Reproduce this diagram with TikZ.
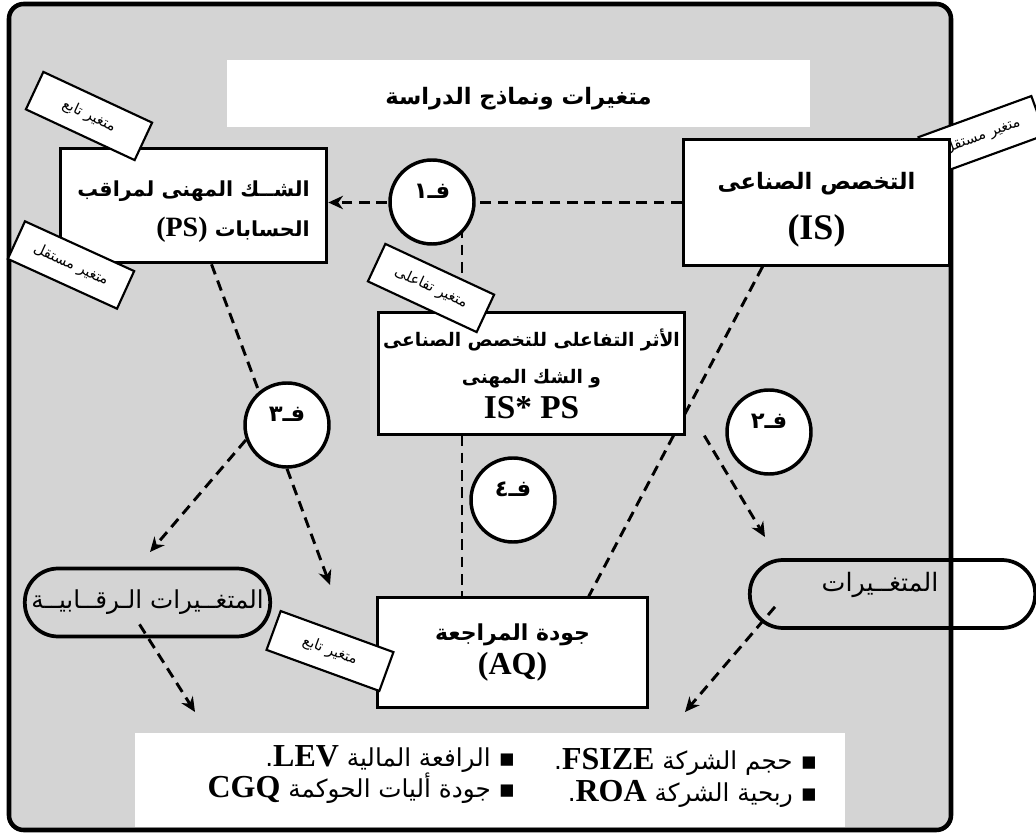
\documentclass[tikz,border=0pt]{standalone}
\usepackage{fontspec}
\setmainfont{DejaVu Sans}
\newfontfamily\arabicfont[Script=Arabic]{DejaVu Sans}
\newfontfamily\latinfont{Liberation Serif}
\TeXXeTstate=1
\usetikzlibrary{arrows.meta,calc}
\pgfdeclarelayer{back}
\pgfdeclarelayer{mid}
\pgfsetlayers{back,mid,main}
\newcommand{\ar}[1]{{\arabicfont\beginR #1\endR}}
\newcommand{\lat}[2][21]{\beginL{\latinfont\bfseries\fontsize{#1}{#1}\selectfont #2}\endL}
\newcommand{\varnote}[4]{
  \node[varbox,rotate=#3] (#1) at #2 {\ar{#4}};
}
\tikzset{
  frame/.style={draw,line width=3.4pt,rounded corners=11pt,fill=black!17},
  mainbox/.style={draw,line width=2.2pt,fill=white,inner sep=2pt,font=\bfseries\fontsize{15.5}{29.5}\selectfont},
  varbox/.style={draw,line width=1.6pt,fill=white,minimum width=90pt,minimum height=31pt,inner sep=1pt,font=\fontsize{11}{13}\selectfont},
  hyp/.style={draw,circle,line width=2.6pt,fill=white,minimum size=63pt,inner sep=0pt,font=\bfseries\fontsize{17}{20}\selectfont},
  ctrl/.style={draw,line width=2.8pt,rounded corners=25pt,minimum height=51pt,inner sep=0pt},
  dashline/.style={line width=2.2pt,dash pattern=on 8pt off 5pt},
  tip/.style={-{Stealth[length=11pt,width=10pt,inset=3.5pt]}}
}
\begin{document}
\begin{tikzpicture}[x=0.75pt,y=-0.75pt]
\useasboundingbox (0,0) rectangle (1036,834);

\node[mainbox,minimum width=200pt,minimum height=86pt,align=right] (ps) at (193.5,205.5)
  {\ar{\rule{0pt}{21pt}الشــك المهنى لمراقب}\\ \ar{الحسابات \lat{(PS)}}};
\node[mainbox,minimum width=200pt,minimum height=94pt,align=center,font=\bfseries\fontsize{17}{38}\selectfont] (is) at (816.5,202.5)
  {\ar{\rule{0pt}{24pt}التخصص الصناعى}\\ \lat[27]{(IS)}};
\node[mainbox,minimum width=230pt,minimum height=91pt,align=center,font=\bfseries\fontsize{14}{28}\selectfont] (inter) at (531.5,373.5)
  {\ar{الأثر التفاعلى للتخصص الصناعى}\\ \ar{و الشك المهنى}\\[-2pt] \lat[25]{IS* PS}};
\node[mainbox,minimum width=202pt,minimum height=82pt,align=center,font=\bfseries\fontsize{16.5}{26}\selectfont] (aq) at (512.5,652.5)
  {\ar{جودة المراجعة}\\ \lat[24]{(AQ)}};

\foreach \n/\x/\y/\d in {f1/432/202/١,f2/769/432/٢,f3/287/425/٣,f4/513/500/٤}
  \node[hyp] (\n) at (\x,\y) {\raisebox{8pt}[\height][\depth]{\ar{فـ\d}}};

\node[ctrl,minimum width=184pt,font=\fontsize{18.5}{20}\selectfont] (ctrlL) at (147.5,602.5)
  {\ar{المتغــيرات الـرقــابيــة}};
\node[ctrl,minimum width=214pt] (ctrlR) at (892.5,594) {};
\node[font=\fontsize{19}{20}\selectfont,anchor=east] (ctrlRtext) at (943,585) {\ar{المتغــيرات}};

\node[anchor=north east,align=right,font=\fontsize{18.5}{24}\selectfont] (listA) at (822,744)
  {\ar{▪ حجم الشركة \lat[24]{FSIZE}.}\\ \ar{▪ ربحية الشركة \lat[24]{ROA}.}};
\node[anchor=north east,align=right,font=\fontsize{18.5}{23}\selectfont] (listB) at (520,741)
  {\ar{▪ الرافعة المالية \lat[24]{LEV}.}\\ \ar{▪ جودة أليات الحوكمة \lat[24]{CGQ}}};

\varnote{n1}{(89,116)}{-25}{متغير تابع}
\varnote{n2}{(71,265)}{-24.5}{متغير مستقل}
\varnote{n3}{(431,288)}{-25}{متغير تفاعلى}
\varnote{n4}{(330,651)}{-20}{متغير تابع}

\begin{pgfonlayer}{back}
\draw[frame] (9,4) rectangle (951,830);
\node[fill=white,minimum width=437pt,minimum height=50pt,font=\bfseries\fontsize{17}{19}\selectfont] (title) at (518.5,93.5)
  {\ar{\rule{0pt}{20.5pt}متغيرات ونماذج الدراسة}};
\node[fill=white,minimum width=532pt,minimum height=71pt] (listbox) at (490,780) {};
\end{pgfonlayer}

\begin{pgfonlayer}{mid}
\varnote{n5}{(982,136)}{20}{متغير مستقل}
\draw[dashline,tip] (is.west) -- (is.west -| ps.east);
\coordinate (v1) at (462,210);
\draw[dashline] (v1) -- (v1 |- aq.north);
\draw[dashline] ($(is.south west)!0.3!(is.south east)$) -- ($(aq.north west)!0.78!(aq.north east)$);
\coordinate (tipR) at (765,537);
\draw[dashline,tip] ($(inter.south east)+(18,0)$) -- (tipR);
\draw[dashline] ($(ps.south)+(18,0)$) -- (f3.130);
\coordinate (tipA) at (150,552);
\coordinate (tipB) at (330,585);
\draw[dashline,tip] (f3.200) -- (tipA);
\draw[dashline,tip] (f3.south) -- (tipB);
\coordinate (tipC) at (195,712);
\coordinate (tipD) at (685,712);
\draw[dashline,tip] ($(ctrlL.south)+(-8,-14)$) -- (tipC);
\draw[dashline,tip] ($(ctrlR.south west)+(27,-23)$) -- (tipD);
\end{pgfonlayer}
\end{tikzpicture}
\end{document}
